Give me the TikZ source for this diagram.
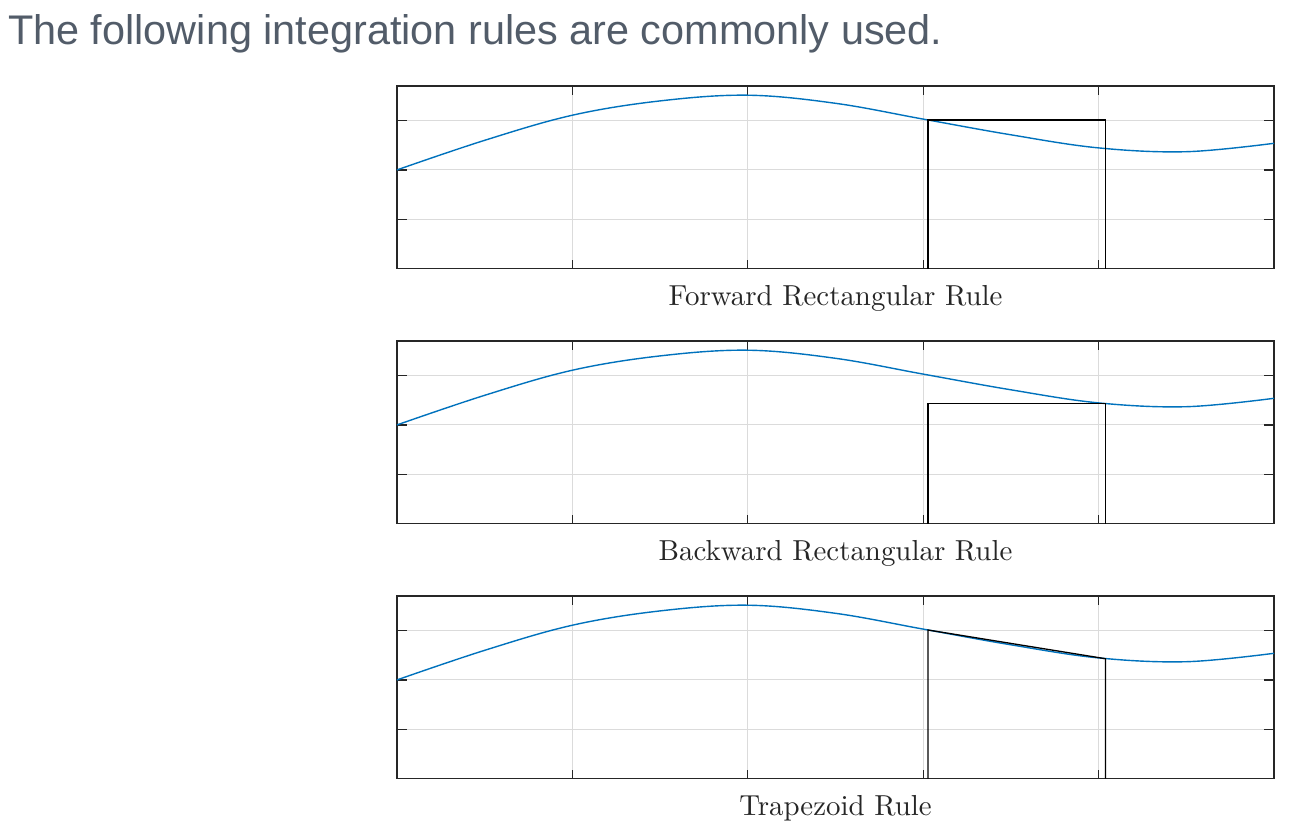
\documentclass[tikz,border=0pt]{standalone}
\usepackage{fontspec}
\newfontfamily\titlefont{Liberation Sans}
\newfontfamily\capfont{lmroman10-regular}[Extension=.otf]
\begin{document}
\begin{tikzpicture}[x=1pt,y=-1pt,
  axisline/.style={draw=black!85, line width=1.3pt},
  gridline/.style={draw=black!14, line width=1pt},
  tickline/.style={draw=black!85, line width=1.3pt},
  curveline/.style={draw={rgb,255:red,0;green,114;blue,189}, line width=1.4pt, line join=round},
  ruleline/.style={draw=black, line width=1.3pt, line join=miter},
  caption/.style={inner sep=0pt, anchor=base, text=black!85, font=\capfont\fontsize{28.9}{34}\selectfont},
  titletext/.style={inner sep=0pt, anchor=base west, text={rgb,255:red,82;green,92;blue,105}, font=\titlefont\fontsize{41.4}{48}\selectfont}]
\useasboundingbox (0,0) rectangle (1299,820);
\fill[white] (0,0) rectangle (1299,820);
\node[titletext] (title) at (8,44) {The following integration rules are commonly used.};

\newcommand\myframe{%
  \foreach \gx in {572.4,747.8,923.2,1098.6} {\draw[gridline] (\gx,86) -- (\gx,268.5);}
  \foreach \gy in {120.6,169.9,219.2} {\draw[gridline] (397,\gy) -- (1274,\gy);}
  \foreach \gx in {572.4,747.8,923.2,1098.6} {\draw[tickline] (\gx,86) -- (\gx,95); \draw[tickline] (\gx,268.5) -- (\gx,259.5);}
  \foreach \gy in {120.6,169.9,219.2} {\draw[tickline] (397,\gy) -- (407,\gy); \draw[tickline] (1274,\gy) -- (1264,\gy);}
  \draw[axisline] (397,86) rectangle (1274,268.5);
  \draw[curveline] plot[smooth, tension=0.6] coordinates {(397,169.9) (484.7,140.3) (572.4,115.2) (660.1,100.9) (747.8,95.2) (835.5,103.3) (923.2,119.1) (1010.9,134.8) (1098.6,147.9) (1186.3,151.7) (1274,143.3)};
}

% Panel 1: forward
\begin{scope}
  \myframe
  \coordinate (f1) at (928,268.5);
  \coordinate (f2) at (928,120);
  \coordinate (f3) at (1105.5,120);
  \coordinate (f4) at (1105.5,268.5);
  \draw[ruleline] (f1) -- (f2) -- (f3) -- (f4);
  \node[caption] (cap1) at (835.5,305) {Forward Rectangular Rule};
\end{scope}

% Panel 2: backward
\begin{scope}[shift={(0,255)}]
  \myframe
  \coordinate (b1) at (928,268.5);
  \coordinate (b2) at (928,148.7);
  \coordinate (b3) at (1105.5,148.7);
  \coordinate (b4) at (1105.5,268.5);
  \draw[ruleline] (b1) -- (b2) -- (b3) -- (b4);
  \node[caption] (cap2) at (835.5,305) {Backward Rectangular Rule};
\end{scope}

% Panel 3: trapezoid
\begin{scope}[shift={(0,510)}]
  \myframe
  \coordinate (t1) at (928,268.5);
  \coordinate (t2) at (928,120);
  \coordinate (t3) at (1105.5,148.7);
  \coordinate (t4) at (1105.5,268.5);
  \draw[ruleline] (t1) -- (t2) -- (t3) -- (t4);
  \node[caption] (cap3) at (835.5,305) {Trapezoid Rule};
\end{scope}
\end{tikzpicture}
\end{document}
